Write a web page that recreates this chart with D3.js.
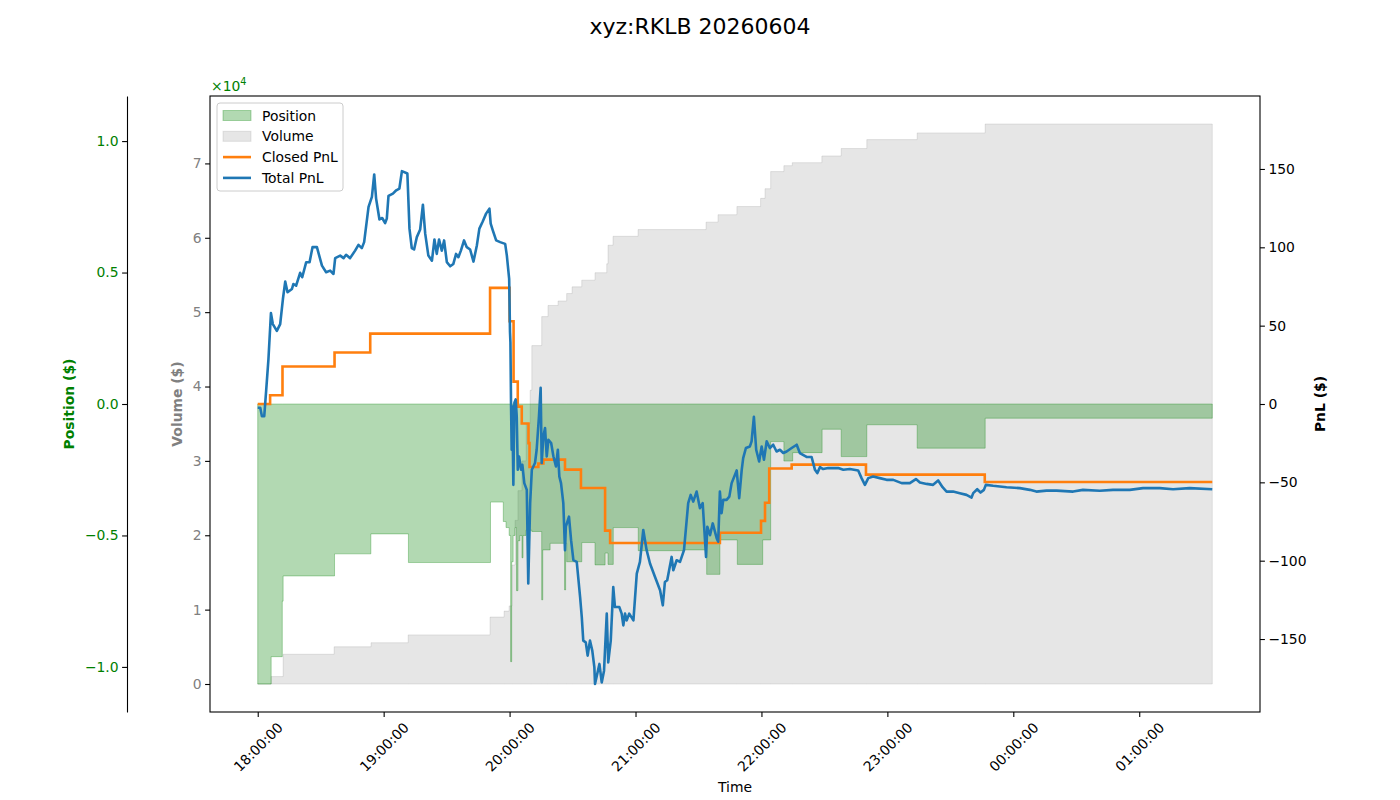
<!DOCTYPE html>
<html>
<head>
<meta charset="utf-8">
<script src="https://cdn.jsdelivr.net/npm/d3@7"></script>
<style>
body { margin: 0; background: #fff; }
svg text { font-family: "DejaVu Sans", sans-serif; }
</style>
</head>
<body>
<div id="chart"></div>
<script>
"use strict"

// times are minutes after 18:00:00, values in dollars
const volTime = [0, 6.4, 12.1, 36.4, 54.0, 71.7, 110.7, 117.4, 119.8, 121.2,
  122.6, 124.0, 125.9, 127.9, 129.8, 130.6, 135.3, 138.3, 143.1, 147.2,
  149.8, 154.4, 160.7, 166.3, 166.9, 169.3, 181.2, 213.6, 219.3, 228.3,
  239.6, 241.7, 244.4, 250.7, 254.7, 268.8, 278.0, 290.2, 314.2, 346.6,
  454.8]
const volValue = [0, 1000, 4000, 5000, 5550, 6600, 9000, 9800, 10500, 16000,
  22000, 26000, 30000, 35000, 39500, 45500, 49400, 50900, 51500, 52500,
  53400, 54300, 55300, 56500, 59000, 60200, 61100, 62100, 63100, 64200,
  65300, 66600, 68900, 69700, 70100, 71000, 72000, 73200, 74100, 75300,
  75300]

const posTime = [0, 6.4, 11.7, 12.1, 36.6, 53.9, 71.8, 110.9, 117.0, 118.3,
  119.8, 120.5, 121.0, 121.7, 122.6, 123.3, 124.0, 124.9, 125.9, 126.4,
  127.8, 130.6, 135.3, 135.8, 139.3, 146.2, 146.7, 147.2, 154.4, 160.7,
  165.5, 166.9, 169.4, 181.3, 202.8, 213.9, 220.2, 228.5, 240.6, 244.4,
  250.7, 254.9, 268.9, 278.0, 290.2, 314.2, 346.6, 454.8]
const posValue = [-10650, -9610, -7500, -6540, -5700, -4940, -6030, -3730, -4470, -4700,
  -5000, -9800, -6000, -5000, -4700, -7100, -5200, -5000, -5850, -5000,
  -4800, -4850, -7450, -5550, -5300, -7070, -5300, -6000, -5270, -6120,
  -5670, -6100, -4700, -5580, -5550, -6480, -5170, -6100, -5170, -1430,
  -2170, -1850, -960, -2000, -790, -1680, -540, -540]

const closedTime = [0, 5.9, 11.8, 36.6, 53.6, 110.7, 120.0, 121.9, 123.9, 125.8,
  129.0, 129.5, 133.7, 136.1, 146.4, 154.0, 165.5, 167.9, 220.2, 239.8,
  241.7, 243.7, 254.4, 289.8, 346.4, 454.8]
const closedValue = [0, 5.6, 23.9, 32.9, 44.9, 74.1, 52.8, 14.3, -1.7, -12.4,
  -25, -40.2, -38, -35.5, -41.9, -53.6, -80.8, -88.7, -82.2, -74.6,
  -63, -41.2, -38.7, -45.1, -49.8, -49.8]

const totalTime = [0, 1.2, 2.0, 3.1, 4.0, 5.1, 6.3, 7.2, 9.1, 10.7,
  12.0, 13.1, 14.2, 16.3, 17.0, 18.3, 20.2, 21.2, 23.1, 24.7,
  26.1, 28.2, 30.6, 32.6, 34.5, 36.1, 36.9, 39.3, 40.9, 42.1,
  44.0, 46.4, 48.0, 49.6, 50.7, 52.8, 54.4, 55.5, 56.4, 58.0,
  59.3, 60.7, 61.5, 62.3, 64.4, 66.0, 67.5, 68.7, 71.3, 72.3,
  73.4, 74.5, 75.8, 77.4, 78.7, 79.8, 81.3, 83.0, 84.2, 85.3,
  86.4, 87.7, 88.8, 90.1, 91.7, 93.2, 94.5, 95.6, 96.8, 98.3,
  99.6, 101.2, 102.8, 104.4, 105.6, 107.2, 108.8, 110.4, 111.0, 112.0,
  113.6, 115.5, 117.9, 118.7, 119.8, 120.2, 120.4, 120.7, 121.0, 121.3,
  121.8, 122.3, 122.9, 123.4, 123.9, 124.5, 125.5, 126.1, 127.0, 128.2,
  128.9, 129.8, 130.6, 132.1, 132.9, 134.0, 134.8, 135.3, 136.1, 136.9,
  137.7, 138.5, 139.8, 140.9, 142.1, 143.0, 143.7, 144.5, 145.6, 146.4,
  146.8, 148.3, 149.3, 150.4, 152.0, 153.6, 154.4, 155.1, 156.3, 157.2,
  158.3, 159.4, 160.4, 160.7, 162.8, 163.9, 165.0, 166.3, 167.0, 168.2,
  169.4, 170.2, 172.3, 173.4, 174.2, 175.0, 175.8, 177.0, 179.0, 180.6,
  182.1, 183.7, 185.3, 186.9, 189.3, 191.7, 193.0, 194.0, 195.1, 197.2,
  198.0, 199.6, 201.2, 203.1, 205.1, 206.3, 207.5, 209.1, 210.7, 212.0,
  213.6, 214.2, 215.5, 216.8, 218.7, 219.4, 220.2, 221.0, 221.8, 223.4,
  224.7, 225.8, 227.4, 228.2, 229.4, 230.6, 231.3, 232.6, 234.5, 235.3,
  236.4, 237.5, 238.9, 240.1, 241.2, 242.5, 244.0, 245.6, 247.2, 248.8,
  250.4, 252.0, 254.4, 256.8, 258.3, 261.5, 263.9, 265.5, 266.6, 267.9,
  269.4, 271.8, 276.6, 279.0, 282.1, 286.1, 287.7, 289.3, 290.9, 293.2,
  296.4, 299.6, 302.8, 306.8, 310.7, 313.6, 315.5, 318.7, 321.8, 324.2,
  326.3, 328.2, 331.3, 334.5, 337.7, 340.1, 340.9, 342.8, 344.4, 346.0,
  346.9, 350.4, 356.8, 363.1, 367.9, 371.0, 375.8, 380.6, 388.5, 393.2,
  401.2, 407.5, 415.5, 421.8, 429.8, 436.1, 444.0, 454.8]
const totalValue = [-2.4, -2.4, -7.8, -7.8, 8.2, 28.5, 58.0, 51.0, 46.7, 51.0,
  67.0, 78.1, 71.3, 73.4, 76.6, 75.5, 83.7, 80.9, 90.5, 90.5,
  100.1, 100.1, 88.3, 84.1, 85.1, 83.0, 93.1, 94.7, 93.1, 95.2,
  93.1, 97.9, 101.6, 99.5, 103.3, 125.8, 132.2, 146.5, 131.1, 117.8,
  118.7, 115.5, 118.3, 132.8, 134.3, 136.4, 137.5, 148.6, 147.1, 111.9,
  99.5, 98.6, 106.5, 111.4, 127.2, 108.7, 94.7, 91.5, 105.0, 95.8,
  105.0, 97.9, 104.4, 90.5, 87.9, 89.4, 95.8, 93.7, 97.9, 104.4,
  100.1, 98.6, 90.9, 101.2, 111.9, 116.5, 121.5, 124.7, 115.1, 110.8,
  104.4, 103.3, 102.2, 94.7, 79.8, 45.8, 39.4, -1.4, -29.2, -1.4,
  -51.6, 0.8, 2.9, -7.8, -42.0, -33.5, -42.0, -38.8, -50.5, -54.8,
  -114.6, -63.3, -42.0, -37.7, -29.2, -7.8, 10.4, -37.7, -20.6, -15.3,
  -33.5, -22.8, -24.9, -33.5, -39.9, -29.2, -46.3, -50.5, -63.3, -93.3,
  -78.3, -71.9, -86.9, -99.7, -100.8, -123.2, -136.0, -151.0, -152.1, -160.6,
  -151.0, -157.4, -168.1, -178.7, -165.9, -177.7, -170.2, -133.8, -164.9, -151.0,
  -116.8, -129.6, -129.6, -133.8, -141.3, -133.8, -138.1, -133.8, -138.1, -108.2,
  -100.8, -80.4, -93.3, -101.8, -110.4, -118.9, -128.5, -113.6, -112.5, -97.6,
  -106.1, -99.7, -100.8, -93.3, -63.3, -58.0, -62.3, -55.9, -66.5, -63.3,
  -97.6, -78.3, -83.7, -76.2, -85.8, -87.9, -55.9, -69.7, -61.2, -61.2,
  -59.1, -50.5, -45.2, -42.4, -60.1, -42.0, -34.5, -28.1, -27.1, -23.8,
  -8.2, -29.2, -36.7, -27.1, -35.6, -23.8, -28.1, -26.0, -30.3, -29.2,
  -31.3, -30.3, -28.1, -26.0, -31.3, -33.8, -33.8, -42.0, -44.1, -40.3,
  -41.5, -40.9, -40.9, -42.0, -41.5, -42.4, -47.3, -51.6, -47.3, -46.3,
  -47.3, -48.4, -48.4, -50.5, -50.5, -47.9, -50.1, -51.0, -51.6, -48.8,
  -53.1, -55.9, -55.9, -56.9, -58.0, -59.7, -56.9, -54.4, -56.5, -54.8,
  -51.6, -52.2, -53.1, -53.7, -54.8, -55.9, -55.3, -55.3, -55.9, -54.8,
  -55.4, -54.8, -54.8, -53.7, -53.7, -54.4, -53.7, -54.4]

const volTicks = [0, 1, 2, 3, 4, 5, 6, 7]          // x 1e4
const posTicks = [-1.0, -0.5, 0.0, 0.5, 1.0]        // x 1e4
const pnlTicks = [-150, -100, -50, 0, 50, 100, 150]

const margin = {top: 96, right: 140, bottom: 88, left: 210},
  width = 1400 - margin.left - margin.right,
  height = 800 - margin.top - margin.bottom;

const FS = "13.9px"
const LW = 2.6

var svgRoot = d3.select("#chart").append("svg")
  .attr("width", 1400)
  .attr("height", 800)

var svg = svgRoot.append("g")
  .attr("transform", "translate(" + margin.left + "," + margin.top + ")");

// build series
var t0 = new Date(2026, 5, 4, 18, 0, 0)
function toDate(m) { return new Date(t0.getTime() + m * 60000) }
function zip(ts, vs) { return ts.map(function(t, i) { return {time: toDate(t), v: vs[i]} }) }

var volData = zip(volTime, volValue)
var posData = zip(posTime, posValue)
var closedData = zip(closedTime, closedValue)
var totalData = zip(totalTime, totalValue)

// scales (matplotlib-like 5% margins, symmetric position / pnl limits)
var span = d3.max(totalTime) - d3.min(totalTime)
var x = d3.scaleTime()
  .domain([toDate(-0.05 * span), toDate(d3.max(totalTime) + 0.05 * span)])
  .range([0, width])

var vMax = d3.max(volValue)
var yVol = d3.scaleLinear().domain([-0.05 * vMax, 1.05 * vMax]).range([height, 0])

var posLim = 1.1 * d3.max(posValue, function(d) { return Math.abs(d) })
var yPos = d3.scaleLinear().domain([-posLim, posLim]).range([height, 0])

var pnlLim = 1.1 * d3.max(closedValue.concat(totalValue), function(d) { return Math.abs(d) })
var yPnl = d3.scaleLinear().domain([-pnlLim, pnlLim]).range([height, 0])

// volume fill
svg.append("path")
  .datum(volData)
  .attr("d", d3.area()
    .x(function(d) { return x(d.time) })
    .y0(yVol(0))
    .y1(function(d) { return yVol(d.v) })
    .curve(d3.curveStepAfter))
  .attr("fill", "gray")
  .attr("fill-opacity", 0.2)
  .attr("stroke", "gray")
  .attr("stroke-opacity", 0.2)
  .attr("stroke-width", 1)

// position fill
svg.append("path")
  .datum(posData)
  .attr("d", d3.area()
    .x(function(d) { return x(d.time) })
    .y0(yPos(0))
    .y1(function(d) { return yPos(d.v) })
    .curve(d3.curveStepAfter))
  .attr("fill", "green")
  .attr("fill-opacity", 0.3)
  .attr("stroke", "green")
  .attr("stroke-opacity", 0.3)
  .attr("stroke-width", 1)

// closed pnl (steps)
svg.append("path")
  .datum(closedData)
  .attr("d", d3.line()
    .x(function(d) { return x(d.time) })
    .y(function(d) { return yPnl(d.v) })
    .curve(d3.curveStepAfter))
  .attr("fill", "none")
  .attr("stroke", "#ff7f0e")
  .attr("stroke-width", LW)

// total pnl
svg.append("path")
  .datum(totalData)
  .attr("d", d3.line()
    .x(function(d) { return x(d.time) })
    .y(function(d) { return yPnl(d.v) }))
  .attr("fill", "none")
  .attr("stroke", "#1f77b4")
  .attr("stroke-width", LW)
  .attr("stroke-linejoin", "round")

// frame
svg.append("rect")
  .attr("width", width)
  .attr("height", height)
  .attr("fill", "none")
  .attr("stroke", "black")
  .attr("stroke-width", 1.1)

function styleAxis(g, color) {
  g.attr("font-family", null).attr("font-size", null)
  g.selectAll(".tick line").attr("stroke", "black").attr("stroke-width", 1.1)
  g.selectAll(".tick text").style("font-size", FS).attr("fill", color)
}

// x axis
var gx = svg.append("g")
  .attr("transform", "translate(0," + height + ")")
  .call(d3.axisBottom(x)
    .ticks(d3.timeHour.every(1))
    .tickFormat(d3.timeFormat("%H:%M:%S"))
    .tickSize(4.9))
gx.select(".domain").remove()
styleAxis(gx, "black")
gx.selectAll(".tick text")
  .attr("y", null).attr("dy", null)
  .attr("text-anchor", "middle")
  .attr("dominant-baseline", "central")
  .attr("transform", "translate(0,35) rotate(-45)")

// volume axis
var gv = svg.append("g")
  .call(d3.axisLeft(yVol)
    .tickValues(volTicks.map(function(d) { return d * 1e4 }))
    .tickFormat(function(d) { return d / 1e4 })
    .tickSize(4.9).tickPadding(3.5))
gv.select(".domain").remove()
styleAxis(gv, "gray")

// position axis (outer spine)
var gp = svg.append("g")
  .attr("transform", "translate(-83,0)")
  .call(d3.axisLeft(yPos)
    .tickValues(posTicks.map(function(d) { return d * 1e4 }))
    .tickFormat(function(d) { return d3.format(".1f")(d / 1e4) })
    .tickSize(4.9).tickSizeOuter(0).tickPadding(3.5))
gp.select(".domain").attr("stroke", "black").attr("stroke-width", 1.1)
styleAxis(gp, "green")

// pnl axis
var gr = svg.append("g")
  .attr("transform", "translate(" + width + ",0)")
  .call(d3.axisRight(yPnl)
    .tickValues(pnlTicks)
    .tickSize(4.9).tickPadding(3.5))
gr.select(".domain").remove()
styleAxis(gr, "black")

// axis labels
svg.append("text")
  .attr("transform", "translate(-141," + height / 2 + ") rotate(-90)")
  .attr("text-anchor", "middle").attr("dominant-baseline", "central")
  .style("font-size", FS).style("font-weight", "bold")
  .attr("fill", "green")
  .text("Position ($)")

svg.append("text")
  .attr("transform", "translate(-33.5," + height / 2 + ") rotate(-90)")
  .attr("text-anchor", "middle").attr("dominant-baseline", "central")
  .style("font-size", FS).style("font-weight", "bold")
  .attr("fill", "gray")
  .text("Volume ($)")

svg.append("text")
  .attr("transform", "translate(" + (width + 60) + "," + height / 2 + ") rotate(-90)")
  .attr("text-anchor", "middle").attr("dominant-baseline", "central")
  .style("font-size", FS).style("font-weight", "bold")
  .attr("fill", "black")
  .text("PnL ($)")

svg.append("text")
  .attr("x", width / 2)
  .attr("y", height + 80)
  .attr("text-anchor", "middle")
  .style("font-size", FS)
  .text("Time")

// offset text
var off = svg.append("text")
  .attr("x", 1)
  .attr("y", -5)
  .attr("fill", "green")
  .style("font-size", FS)
off.append("tspan").text("×10")
off.append("tspan").attr("dy", -6).style("font-size", "9.7px").text("4")

// title
svgRoot.append("text")
  .attr("x", 700)
  .attr("y", 34)
  .attr("text-anchor", "middle")
  .style("font-size", "22px")
  .text("xyz:RKLB 20260604")

// legend
var legend = svg.append("g").attr("transform", "translate(7,7)")
legend.append("rect")
  .attr("width", 126).attr("height", 88).attr("rx", 3)
  .attr("fill", "white").attr("fill-opacity", 0.8)
  .attr("stroke", "#cccccc").attr("stroke-width", 1)

var items = [
  {label: "Position", type: "patch", color: "green", op: 0.3},
  {label: "Volume", type: "patch", color: "gray", op: 0.2},
  {label: "Closed PnL", type: "line", color: "#ff7f0e"},
  {label: "Total PnL", type: "line", color: "#1f77b4"}
]
items.forEach(function(it, i) {
  var cy = 12.5 + i * 20.8
  if (it.type == "patch") {
    legend.append("rect")
      .attr("x", 6).attr("y", cy - 5).attr("width", 28).attr("height", 10)
      .attr("fill", it.color).attr("fill-opacity", it.op)
      .attr("stroke", it.color).attr("stroke-opacity", it.op)
  } else {
    legend.append("line")
      .attr("x1", 6).attr("x2", 34).attr("y1", cy).attr("y2", cy)
      .attr("stroke", it.color).attr("stroke-width", LW)
  }
  legend.append("text")
    .attr("x", 45).attr("y", cy)
    .attr("dominant-baseline", "central")
    .style("font-size", FS)
    .text(it.label)
})
</script>
</body>
</html>
